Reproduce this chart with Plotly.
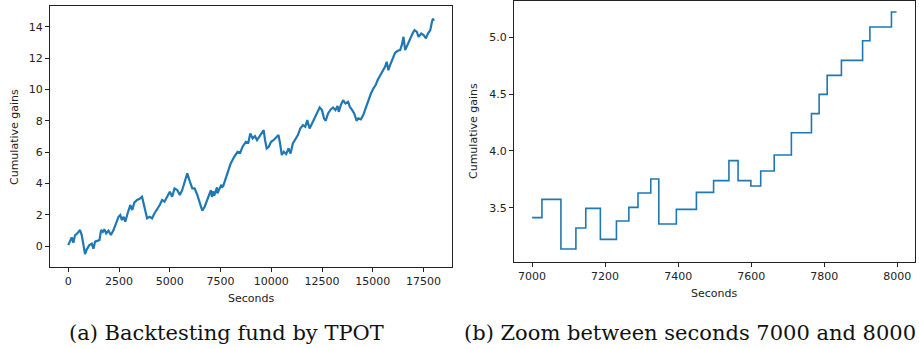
import plotly.graph_objects as go

# ---- data: backtesting fund (full run) ----
sec_full = [0, 84, 168, 250, 332, 446, 579, 663, 747, 826, 911, 1040, 1158, 1238, 1322, 1436, 1535,
            1619, 1700, 1782, 1865, 1980, 2099, 2228, 2361, 2475, 2559, 2643, 2727, 2807, 2921, 3054,
            3153, 3252, 3386, 3515, 3633, 3713, 3797, 3881, 4010, 4128, 4242, 4376, 4505, 4623, 4737,
            4871, 5000, 5118, 5232, 5366, 5495, 5613, 5727, 5861, 5990, 6108, 6222, 6356, 6485, 6603,
            6717, 6851, 7000, 7027, 7079, 7120, 7147, 7187, 7231, 7290, 7325, 7347, 7395, 7450, 7539,
            7564, 7626, 7663, 7710, 7786, 7847, 7925, 7984, 8172, 8338, 8470, 8585, 8750, 8866, 8965,
            9081, 9196, 9295, 9411, 9526, 9625, 9691, 9774, 9873, 9989, 10121, 10236, 10352, 10434,
            10517, 10616, 10732, 10847, 10946, 11062, 11177, 11309, 11425, 11557, 11673, 11772, 11887,
            12003, 12135, 12267, 12383, 12498, 12597, 12680, 12795, 12927, 13043, 13159, 13258, 13324,
            13423, 13538, 13654, 13786, 13868, 13984, 14083, 14199, 14281, 14413, 14529, 14644, 14776,
            14908, 15024, 15139, 15238, 15354, 15470, 15602, 15684, 15767, 15850, 15965, 16097, 16229,
            16345, 16427, 16510, 16593, 16725, 16840, 16956, 17055, 17170, 17253, 17385, 17500, 17616,
            17715, 17831, 17913, 17963, 18000]
gain_full = [0.06, 0.38, 0.55, 0.21, 0.68, 0.81, 1.02, 0.7, -0.04, -0.51, -0.21, 0.06, 0.15, -0.17,
             0.28, 0.34, 0.38, 1.02, 0.9, 1.06, 0.81, 0.98, 0.7, 1.02, 1.45, 1.87, 1.98, 1.66, 1.87,
             1.55, 2.08, 2.62, 2.3, 2.77, 2.94, 3.02, 3.15, 2.72, 2.08, 1.77, 1.87, 1.77, 2.08, 2.34,
             2.62, 2.94, 2.83, 3.15, 3.47, 3.15, 3.68, 3.58, 3.26, 3.58, 4.11, 4.64, 4.11, 3.68, 3.68,
             3.26, 2.72, 2.26, 2.51, 2.94, 3.41, 3.57, 3.14, 3.32, 3.49, 3.22, 3.38, 3.63, 3.75, 3.36,
             3.49, 3.64, 3.91, 3.74, 3.82, 3.96, 4.16, 4.5, 4.8, 5.09, 5.22, 5.7, 6.02, 5.96, 6.34,
             6.66, 6.6, 7.19, 6.87, 7.02, 6.77, 6.98, 7.19, 7.4, 6.77, 6.23, 6.34, 6.66, 6.77, 6.94,
             7.09, 6.55, 5.81, 6.02, 5.87, 6.23, 5.91, 6.55, 6.77, 7.09, 7.51, 7.72, 7.62, 8.04, 7.51,
             7.83, 8.15, 8.51, 8.85, 8.68, 8.15, 8.0, 8.47, 8.72, 8.85, 8.68, 8.94, 8.57, 9.0, 9.32,
             9.1, 9.21, 8.89, 8.68, 8.47, 8.0, 8.15, 8.09, 8.36, 8.79, 9.32, 9.74, 10.06, 10.28, 10.6,
             10.85, 11.13, 11.45, 11.77, 11.23, 11.55, 11.98, 12.34, 12.47, 12.51, 12.83, 13.36, 12.51,
             12.94, 13.26, 13.57, 13.79, 13.68, 13.36, 13.57, 13.47, 13.26, 13.57, 13.79, 14.32, 14.53,
             14.38]

# ---- data: zoom between seconds 7000 and 8000 (step changes) ----
sec_zoom = [7000, 7027, 7079, 7120, 7147, 7187, 7231, 7265, 7290, 7325, 7347, 7395, 7450, 7497,
            7539, 7564, 7599, 7626, 7663, 7710, 7765, 7786, 7808, 7847, 7905, 7925, 7984, 7998]
gain_zoom = [3.412, 3.573, 3.136, 3.321, 3.494, 3.221, 3.383, 3.503, 3.629, 3.752, 3.356, 3.485,
             3.635, 3.738, 3.914, 3.738, 3.691, 3.823, 3.964, 4.16, 4.328, 4.498, 4.665, 4.797,
             4.97, 5.091, 5.223, 5.223]

full_ticks = [0, 2500, 5000, 7500, 10000, 12500, 15000, 17500]
full_yticks = [0, 2, 4, 6, 8, 10, 12, 14]
zoom_ticks = [7000, 7200, 7400, 7600, 7800, 8000]
zoom_yticks = [3.5, 4.0, 4.5, 5.0]

captions = ["(a) Backtesting fund by TPOT", "(b) Zoom between seconds 7000 and 8000"]

W, H = 919, 349
BLUE = "#1f77b4"
INK = "#222222"

fig = go.Figure()
fig.add_trace(go.Scatter(x=sec_full, y=gain_full, mode="lines",
                         line=dict(color=BLUE, width=2.2), xaxis="x", yaxis="y",
                         showlegend=False))
fig.add_trace(go.Scatter(x=sec_zoom, y=gain_zoom, mode="lines",
                         line=dict(color=BLUE, width=1.6, shape="hv"), xaxis="x2", yaxis="y2",
                         showlegend=False))

axis_common = dict(showline=True, linecolor=INK, linewidth=1, mirror=True, showgrid=False,
                   zeroline=False, ticks="outside", ticklen=4, tickcolor=INK, tickwidth=1,
                   tickfont=dict(family="DejaVu Sans", size=11, color=INK))

def px_x(p):
    return p / W

def px_y(p):
    return 1 - p / H

fig.update_layout(
    width=W, height=H,
    margin=dict(l=0, r=0, t=0, b=0),
    paper_bgcolor="white", plot_bgcolor="white",
    xaxis=dict(domain=[px_x(50), px_x(452)], range=[-900, 18900], tickvals=full_ticks,
               ticktext=[str(v) for v in full_ticks], anchor="y", **axis_common),
    yaxis=dict(domain=[px_y(267), px_y(6)], range=[-1.34, 15.33], tickvals=full_yticks,
               ticktext=[str(v) for v in full_yticks], anchor="x", **axis_common),
    xaxis2=dict(domain=[px_x(514), px_x(915)], range=[6950.5, 8048.5], tickvals=zoom_ticks,
                ticktext=[str(v) for v in zoom_ticks], anchor="y2", **axis_common),
    yaxis2=dict(domain=[px_y(261.5), px_y(1)], range=[3.026, 5.32], tickvals=zoom_yticks,
                ticktext=["%.1f" % v for v in zoom_yticks], anchor="x2", **axis_common),
)

label_font = dict(family="DejaVu Sans", size=11, color=INK)
cap_font = dict(family="DejaVu Serif", size=21, color="#111")
anns = [
    dict(text="Seconds", x=px_x(251), y=px_y(298), xref="paper", yref="paper",
         showarrow=False, font=label_font, xanchor="center", yanchor="middle"),
    dict(text="Cumulative gains", x=px_x(14), y=px_y(137), xref="paper", yref="paper",
         showarrow=False, font=label_font, textangle=-90, xanchor="center", yanchor="middle"),
    dict(text="Seconds", x=px_x(714), y=px_y(293), xref="paper", yref="paper",
         showarrow=False, font=label_font, xanchor="center", yanchor="middle"),
    dict(text="Cumulative gains", x=px_x(473), y=px_y(131), xref="paper", yref="paper",
         showarrow=False, font=label_font, textangle=-90, xanchor="center", yanchor="middle"),
    dict(text=captions[0], x=px_x(226), y=px_y(333), xref="paper", yref="paper",
         showarrow=False, font=cap_font, xanchor="center", yanchor="middle"),
    dict(text=captions[1], x=px_x(690), y=px_y(333), xref="paper", yref="paper",
         showarrow=False, font=cap_font, xanchor="center", yanchor="middle"),
]
fig.update_layout(annotations=anns)

fig.write_html("out.html")
